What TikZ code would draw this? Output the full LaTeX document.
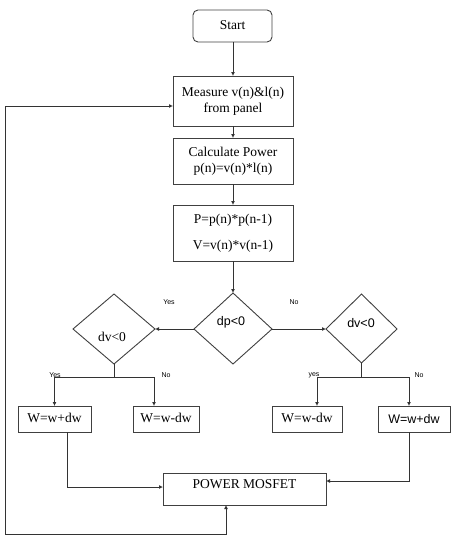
\documentclass[tikz,border=0pt]{standalone}
\usepackage{fontspec}
\setmainfont{Liberation Serif}
\setsansfont{Liberation Sans}
\usetikzlibrary{arrows.meta}
\tikzset{
  box/.style={draw=black!75, line width=0.9pt, minimum height=0pt, inner sep=0pt},
  lbl/.style={font=\fontsize{7}{8}\selectfont\sffamily, inner sep=0pt},
  txt/.style={font=\fontsize{13.5}{16}\selectfont, inner sep=0pt},
  stxt/.style={font=\fontsize{12.5}{15}\selectfont\sffamily, inner sep=0pt},
  conn/.style={draw=black!80, line width=0.9pt, -{Latex[length=4pt,width=4pt]}},
  seg/.style={draw=black!80, line width=0.9pt}
}
\begin{document}
\begin{tikzpicture}[x=1pt,y=-1pt]
\useasboundingbox (0,0) rectangle (458,542);
% start
\draw[box, rounded corners=5pt] (193,10) rectangle (272,42);
\node[txt] (start) at (232.5,25) {Start};
\coordinate (startb) at (233,42);
% measure
\draw[box] (173,76) rectangle (293,126);
\node[txt, align=center] (meas) at (233,101) {Measure v(n)\&l(n)\\from panel};
\coordinate (meast) at (233,76); \coordinate (measb) at (233,126); \coordinate (measl) at (173,106);
% calculate
\draw[box] (173,138) rectangle (293,184);
\node[txt, align=center] (calc) at (233,161) {Calculate Power\\p(n)=v(n)*l(n)};
\coordinate (calct) at (233,138); \coordinate (calcb) at (233,184);
% P box
\draw[box] (173,205) rectangle (293,261);
\node[txt] (pp) at (233,220) {P=p(n)*p(n-1)};
\node[txt] (vv) at (233,246) {V=v(n)*v(n-1)};
\coordinate (pt) at (233,205); \coordinate (pb) at (233,261);
% dp diamond
\draw[box] (233,293) -- (272,329) -- (233,364) -- (194,329) -- cycle;
\node[stxt] (dp) at (231,322) {dp<0};
\coordinate (dpt) at (233,293); \coordinate (dpl) at (194,329); \coordinate (dpr) at (272,329);
% left dv diamond
\draw[box] (114,294) -- (155,329) -- (114,364) -- (73,329) -- cycle;
\node[txt] (dvl) at (112,337) {dv<0};
\coordinate (dvlr) at (155,329); \coordinate (dvlb) at (114,364);
% right dv diamond
\draw[box] (361.5,294) -- (397,329) -- (361.5,363) -- (326,329) -- cycle;
\node[stxt] (dvr) at (361,323) {dv<0};
\coordinate (dvrl) at (326,329); \coordinate (dvrb) at (361.5,363);
% result boxes
\draw[box] (18,406) rectangle (91,432);
\node[txt] (w1) at (54.5,418) {W=w+dw};
\draw[box] (133,406) rectangle (199,432);
\node[txt] (w2) at (166,418) {W=w-dw};
\draw[box] (272,406) rectangle (342,432);
\node[txt] (w3) at (307,418) {W=w-dw};
\draw[box] (378,406) rectangle (450,432);
\node[stxt] (w4) at (414,419) {W=w+dw};
% power mosfet
\draw[box] (163,473) rectangle (326,505);
\node[txt] (pm) at (244.5,484) {POWER MOSFET};
% labels
\node[lbl] (y1) at (169,302) {Yes};
\node[lbl] (n1) at (294,302) {No};
\node[lbl] (y2) at (55,375) {Yes};
\node[lbl] (n2) at (166,375) {No};
\node[lbl] (y3) at (314,375) {yes};
\node[lbl] (n3) at (419,375) {No};
% connectors
\draw[conn] (startb) -- (meast);
\draw[conn] (measb) -- (calct);
\draw[conn] (calcb) -- (pt);
\draw[conn] (pb) -- (dpt);
\draw[conn] (dpl) -- (dvlr);
\draw[conn] (dpr) -- (dvrl);
\coordinate (lj) at (114,377);
\draw[seg] (dvlb) -- (lj);
\draw[conn] (lj) -| (54.5,406);
\draw[conn] (lj) -| (154,406);
\coordinate (rj) at (361.5,377);
\draw[seg] (dvrb) -- (rj);
\draw[conn] (rj) -| (317,406);
\draw[conn] (rj) -| (409,406);
\draw[conn] (67,432) |- (163,487);
\draw[conn] (409,432) |- (326,481);
\coordinate (pmb) at (226,505);
\draw[conn, {Latex[length=4pt,width=4pt]}-{Latex[length=4pt,width=4pt]}] (pmb) -- (226,534) -- (5,534) |- (measl);
\end{tikzpicture}
\end{document}
